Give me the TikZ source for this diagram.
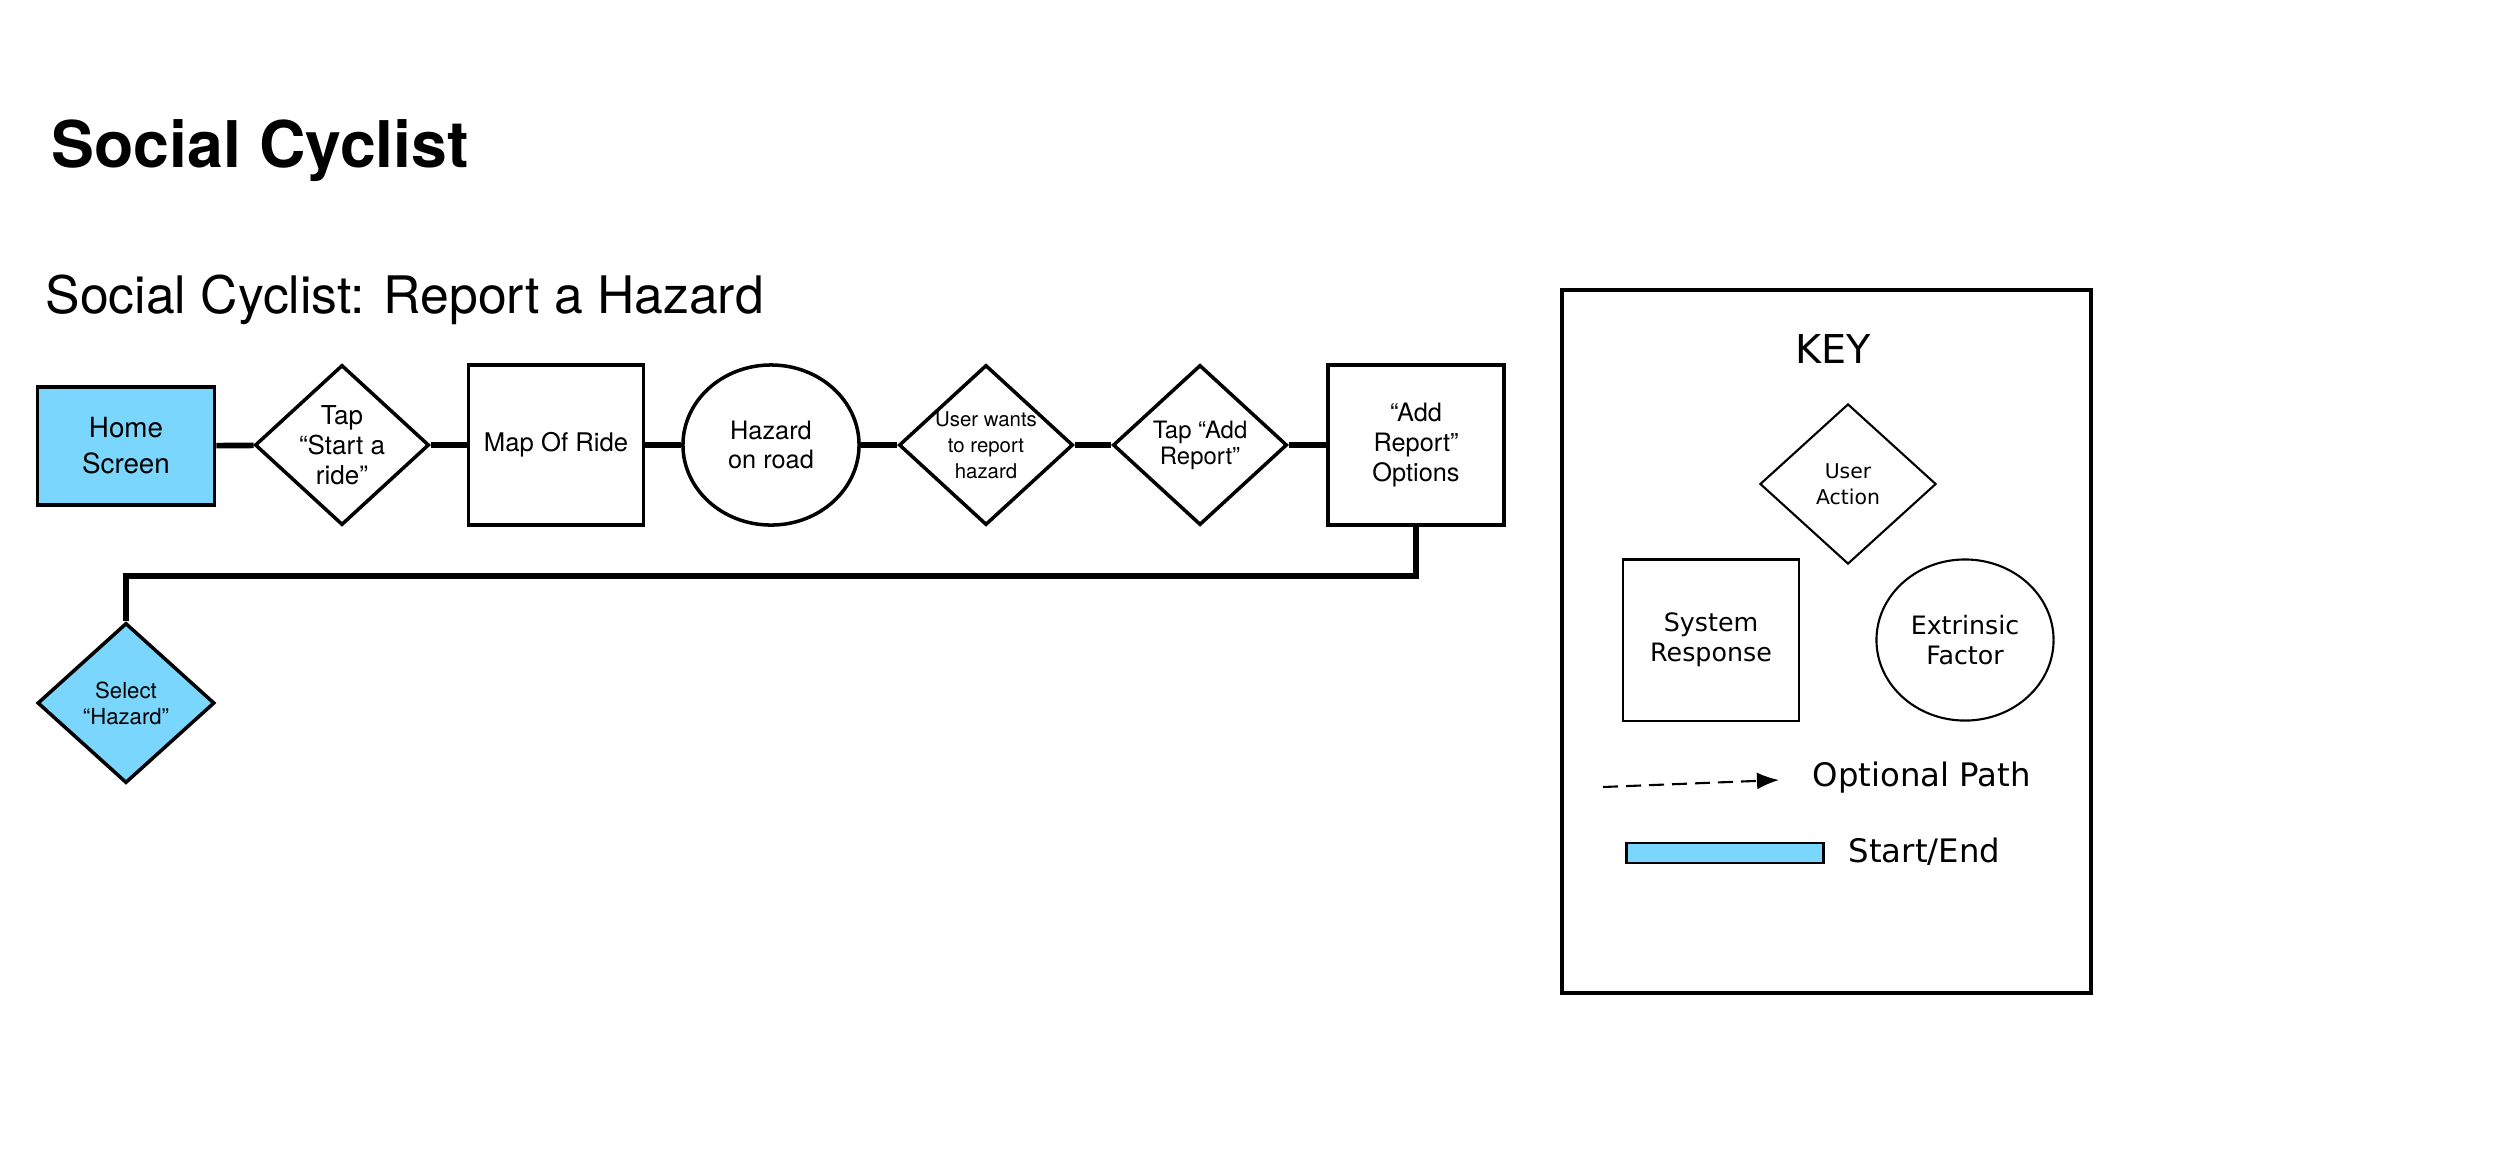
\documentclass[tikz,border=0pt]{standalone}
\usepackage{fontspec}
\setmainfont{TeX Gyre Heros}
\newfontfamily\keyfont{DejaVu Sans}
\usetikzlibrary{shapes.geometric,arrows.meta}

\definecolor{startblue}{RGB}{122,214,253}

\tikzset{
  sysbox/.style={rectangle, draw, line width=1pt, minimum width=1.75cm, minimum height=1.6cm, inner sep=0pt, align=center},
  extbox/.style={ellipse, draw, line width=1pt, minimum width=1.76cm, minimum height=1.6cm, inner sep=0pt, align=center},
  actbox/.style={diamond, draw, line width=1pt, minimum width=1.74cm, minimum height=1.6cm, inner sep=0pt},
  acttext/.style={align=center, inner sep=0pt},
  link/.style={line width=1.6pt},
  keyline/.style={line width=0.6pt}
}

\begin{document}
\begin{tikzpicture}[x=0.01cm, y=-0.01cm]
  \useasboundingbox (0,0) rectangle (2500,1163);

  % titles
  \node[anchor=base west, inner sep=0pt, font=\fontsize{18.3}{21}\selectfont\bfseries] (title) at (51,167) {Social Cyclist};
  \node[anchor=base west, inner sep=0pt, font=\fontsize{14.7}{17}\selectfont] (subtitle) at (45,313) {Social Cyclist: Report a Hazard};

  % flow
  \node[sysbox, fill=startblue, minimum width=1.77cm, minimum height=1.18cm, font=\fontsize{7.9}{10.2}\selectfont] (home) at (126,446)
    {Home\\Screen};
  \node[actbox] (tap) at (342,445) {};
  \node[acttext, font=\fontsize{7.4}{8.5}\selectfont] (tapt) at (tap) {Tap\\“Start a\\ride”};
  \node[sysbox, font=\fontsize{7.3}{8.5}\selectfont] (map) at (556,445) {Map Of Ride};
  \node[extbox, font=\fontsize{7.2}{8.5}\selectfont] (hazard) at (771,445) {Hazard\\on road};
  \node[actbox] (wants) at (986,445) {};
  \node[acttext, font=\fontsize{5.8}{7.4}\selectfont] (wantst) at (wants) {User wants\\to report\\hazard};
  \node[actbox] (add) at (1200,445) {};
  \node[acttext, font=\fontsize{6.8}{7.4}\selectfont] (addt) at (add) {Tap “Add\\Report”};
  \node[sysbox, minimum width=1.76cm, font=\fontsize{7.2}{8.5}\selectfont] (opts) at (1416,445)
    {“Add\\Report”\\Options};
  \node[actbox, fill=startblue, minimum width=1.77cm] (sel) at (126,703) {};
  \node[acttext, font=\fontsize{6.3}{7.4}\selectfont] (selt) at (sel) {Select\\“Hazard”};

  \draw[link] (home) -- (tap);
  \draw[link] (tap) -- (map);
  \draw[link] (map) -- (hazard);
  \draw[link] (hazard) -- (wants);
  \draw[link] (wants) -- (add);
  \draw[link] (add) -- (opts);
  \draw[link] (opts.south) -- ++(0,49) -| (sel.north);

  % key
  \draw[line width=0.9pt] (1562,290) rectangle (2091,993);
  \node[anchor=base, inner sep=0pt, font=\keyfont\fontsize{11.3}{13}\selectfont] (keyt) at (1833,363) {KEY};
  \node[actbox, keyline, minimum width=1.76cm] (kact) at (1848,484) {};
  \node[acttext, font=\keyfont\fontsize{5.8}{7.4}\selectfont] (kactt) at (kact) {User\\Action};
  \node[sysbox, keyline, minimum width=1.76cm, minimum height=1.61cm, font=\keyfont\fontsize{7.2}{8.5}\selectfont] (ksys) at (1711,640)
    {System\\Response};
  \node[extbox, keyline, minimum width=1.77cm, minimum height=1.61cm, font=\keyfont\fontsize{7.2}{8.5}\selectfont] (kext) at (1965,640)
    {Extrinsic\\Factor};
  \coordinate (kopta) at (1603,787);
  \coordinate (koptb) at (1779,780);
  \draw[keyline, dash pattern=on 0.15cm off 0.08cm, -{Latex[length=0.22cm, width=0.17cm]}] (kopta) -- (koptb);
  \node[anchor=base west, inner sep=0pt, font=\keyfont\fontsize{9.2}{12}\selectfont] (kopt) at (1812,786) {Optional Path};
  \node[rectangle, draw, fill=startblue, line width=0.7pt, minimum width=1.97cm, minimum height=0.2cm, inner sep=0pt] (kstart) at (1725,853) {};
  \node[anchor=base west, inner sep=0pt, font=\keyfont\fontsize{9.2}{12}\selectfont] (kstartt) at (1848,862) {Start/End};
\end{tikzpicture}
\end{document}
